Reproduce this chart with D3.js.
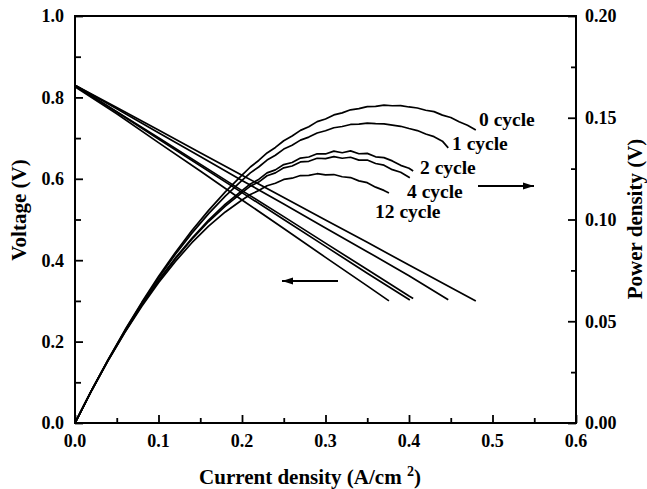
<!DOCTYPE html>
<html>
<head>
<meta charset="utf-8">
<script src="https://cdn.jsdelivr.net/npm/d3@7"></script>
<style>
  html, body { margin: 0; padding: 0; background: #fff; }
  svg { display: block; }
  text { font-family: "Liberation Serif", "Times New Roman", serif; font-weight: bold; fill: #000; }
</style>
</head>
<body>
<svg id="chart" width="647" height="489"></svg>
<script>
// ---------- data ----------
const seriesNames = ["0 cycle", "1 cycle", "2 cycle", "4 cycle", "12 cycle"];

// current grid for power curves (A/cm2)
const powerGrid = [0, 0.02, 0.04, 0.06, 0.08, 0.10, 0.12, 0.14, 0.16, 0.18, 0.20,
  0.21, 0.22, 0.23, 0.24, 0.25, 0.26, 0.27, 0.28, 0.29, 0.30, 0.31, 0.32, 0.33, 0.34,
  0.35, 0.36, 0.37, 0.38, 0.39, 0.40, 0.41, 0.42, 0.43, 0.44, 0.45, 0.46, 0.47, 0.48];
// current grid for voltage curves
const voltGrid = [0, 0.05, 0.10, 0.15, 0.20, 0.25, 0.30, 0.35, 0.40, 0.45];
// last measured current for each series
const endCurrent = [0.48, 0.447, 0.405, 0.401, 0.376];

// power density (right axis); last value belongs to endCurrent
const power0 = [0, 0.0162, 0.0314, 0.0458, 0.0593, 0.0720, 0.0837, 0.0946, 0.1045, 0.1136, 0.1218,
  0.1258, 0.1290, 0.1327, 0.1354, 0.1387, 0.1410, 0.1438, 0.1456, 0.1481, 0.1494, 0.1514, 0.1524,
  0.1539, 0.1545, 0.1555, 0.1556, 0.1562, 0.1559, 0.1560, 0.1553, 0.1548, 0.1537, 0.1530, 0.1513,
  0.1501, 0.1480, 0.1463, 0.1440];
const power1 = [0, 0.0161, 0.0313, 0.0456, 0.0589, 0.0713, 0.0828, 0.0933, 0.1029, 0.1115, 0.1192,
  0.1229, 0.1258, 0.1292, 0.1316, 0.1346, 0.1365, 0.1390, 0.1405, 0.1425, 0.1436, 0.1451, 0.1457,
  0.1467, 0.1469, 0.1474, 0.1471, 0.1470, 0.1464, 0.1458, 0.1447, 0.1437, 0.1420, 0.1407, 0.1385,
  0.1352];
const power2 = [0, 0.0161, 0.0311, 0.0451, 0.0581, 0.0701, 0.0810, 0.0908, 0.0997, 0.1075, 0.1142,
  0.1175, 0.1197, 0.1229, 0.1244, 0.1270, 0.1280, 0.1302, 0.1307, 0.1323, 0.1322, 0.1336, 0.1328,
  0.1337, 0.1323, 0.1325, 0.1308, 0.1304, 0.1288, 0.1266, 0.1252, 0.1238];
const power4 = [0, 0.0161, 0.0311, 0.0450, 0.0580, 0.0698, 0.0806, 0.0903, 0.0990, 0.1066, 0.1132,
  0.1164, 0.1184, 0.1215, 0.1229, 0.1254, 0.1263, 0.1283, 0.1286, 0.1301, 0.1299, 0.1309, 0.1301,
  0.1306, 0.1292, 0.1292, 0.1275, 0.1267, 0.1245, 0.1232, 0.1205];
const power12 = [0, 0.0160, 0.0309, 0.0447, 0.0574, 0.0689, 0.0793, 0.0886, 0.0967, 0.1037, 0.1096,
  0.1123, 0.1142, 0.1166, 0.1178, 0.1197, 0.1203, 0.1216, 0.1217, 0.1225, 0.1219, 0.1221, 0.1210,
  0.1206, 0.1190, 0.1181, 0.1159, 0.1143, 0.1130];

// voltage (left axis); last value belongs to endCurrent
const volt0 = [0.830, 0.775, 0.720, 0.664, 0.609, 0.554, 0.499, 0.444, 0.388, 0.333, 0.300];
const volt1 = [0.830, 0.772, 0.713, 0.655, 0.596, 0.538, 0.479, 0.421, 0.362, 0.303];
const volt2 = [0.830, 0.765, 0.701, 0.636, 0.571, 0.507, 0.442, 0.377, 0.312, 0.306];
const volt4 = [0.828, 0.764, 0.698, 0.632, 0.566, 0.500, 0.434, 0.368, 0.302];
const volt12 = [0.826, 0.760, 0.689, 0.619, 0.548, 0.478, 0.407, 0.337, 0.300];

const powerSeries = [power0, power1, power2, power4, power12];
const voltSeries = [volt0, volt1, volt2, volt4, volt12];

const xTicks = [0, 0.1, 0.2, 0.3, 0.4, 0.5, 0.6];
const yLeftTicks = [0, 0.2, 0.4, 0.6, 0.8, 1.0];
const yRightTicks = [0, 0.05, 0.10, 0.15, 0.20];

// ---------- layout ----------
const L = 75, R = 576, T = 16, B = 423;
const svg = d3.select("#chart");

const x = d3.scaleLinear().domain([0, 0.6]).range([L, R]);
const yL = d3.scaleLinear().domain([0, 1.0]).range([B, T]);
const yR = d3.scaleLinear().domain([0, 0.20]).range([B, T]);

function toPoints(values, grid, s) {
  return values.map((v, k) => [k === values.length - 1 ? endCurrent[s] : grid[k], v]);
}

// curves
const gCurves = svg.append("g");
voltSeries.forEach((vals, s) => {
  gCurves.append("path")
    .datum(toPoints(vals, voltGrid, s))
    .attr("fill", "none").attr("stroke", "#000").attr("stroke-width", 1.7)
    .attr("d", d3.line().x(d => x(d[0])).y(d => yL(d[1])));
});
powerSeries.forEach((vals, s) => {
  gCurves.append("path")
    .datum(toPoints(vals, powerGrid, s))
    .attr("fill", "none").attr("stroke", "#000").attr("stroke-width", 1.7)
    .attr("stroke-linejoin", "round")
    .attr("d", d3.line().x(d => x(d[0])).y(d => yR(d[1])));
});

// axes (ticks inward)
const fmt1 = d3.format(".1f"), fmt2 = d3.format(".2f");
const axB = svg.append("g").attr("transform", `translate(0,${B})`)
  .call(d3.axisBottom(x).tickValues(d3.range(0, 0.601, 0.05)).tickSize(-5).tickFormat(""));
axB.selectAll(".tick line").filter((d, i) => i % 2 === 0).attr("y2", -8);
const axL = svg.append("g").attr("transform", `translate(${L},0)`)
  .call(d3.axisLeft(yL).tickValues(d3.range(0, 1.001, 0.1)).tickSize(-6).tickFormat(""));
axL.selectAll(".tick line").filter((d, i) => i % 2 === 0).attr("x2", 8);
const axR = svg.append("g").attr("transform", `translate(${R},0)`)
  .call(d3.axisRight(yR).tickValues(d3.range(0, 0.2001, 0.025)).tickSize(-5).tickFormat(""));
axR.selectAll(".tick line").filter((d, i) => i % 2 === 0).attr("x2", -8);
[axB, axL, axR].forEach(a => {
  a.selectAll(".tick line").attr("stroke", "#000").attr("stroke-width", 1.8);
  a.select(".domain").remove();
});

// frame
svg.append("rect").attr("x", L).attr("y", T).attr("width", R - L).attr("height", B - T)
  .attr("fill", "none").attr("stroke", "#000").attr("stroke-width", 2);

// tick labels
svg.selectAll(".xl").data(xTicks).enter().append("text")
  .attr("x", d => x(d)).attr("y", 447).attr("text-anchor", "middle")
  .attr("font-size", 18).text(fmt1);
svg.selectAll(".yl").data(yLeftTicks).enter().append("text")
  .attr("x", 64).attr("y", d => yL(d)).attr("dy", "0.35em").attr("text-anchor", "end")
  .attr("font-size", 18).text(fmt1);
svg.selectAll(".yr").data(yRightTicks).enter().append("text")
  .attr("x", 585).attr("y", d => yR(d)).attr("dy", "0.35em").attr("text-anchor", "start")
  .attr("font-size", 18).text(fmt2);

// axis titles
const xt = svg.append("text").attr("x", 310).attr("y", 484).attr("text-anchor", "middle")
  .attr("font-size", 21);
xt.append("tspan").text("Current density (A/cm ");
xt.append("tspan").attr("font-size", 14).attr("dy", -8).text("2");
xt.append("tspan").attr("dy", 8).text(")");

svg.append("text").attr("transform", "translate(26,210) rotate(-90)")
  .attr("text-anchor", "middle").attr("font-size", 21).text("Voltage (V)");
svg.append("text").attr("transform", "translate(642,219) rotate(-90)")
  .attr("text-anchor", "middle").attr("font-size", 21).text("Power density (V)");

// series labels
const labelPos = [[479, 126], [452, 150], [420, 174], [407, 198], [375, 218]];
seriesNames.forEach((n, s) => {
  svg.append("text").attr("x", labelPos[s][0]).attr("y", labelPos[s][1])
    .attr("font-size", 19.5).text(n);
});

// arrows
function arrow(x1, x2, y) {
  svg.append("line").attr("x1", x1).attr("x2", x2).attr("y1", y).attr("y2", y)
    .attr("stroke", "#000").attr("stroke-width", 1.8);
  const dir = Math.sign(x2 - x1);
  svg.append("path")
    .attr("d", `M${x2},${y} L${x2 - dir * 11},${y - 3.5} L${x2 - dir * 11},${y + 3.5} Z`)
    .attr("fill", "#000");
}
arrow(478, 534, 186);
arrow(338, 282, 281);
</script>
</body>
</html>
